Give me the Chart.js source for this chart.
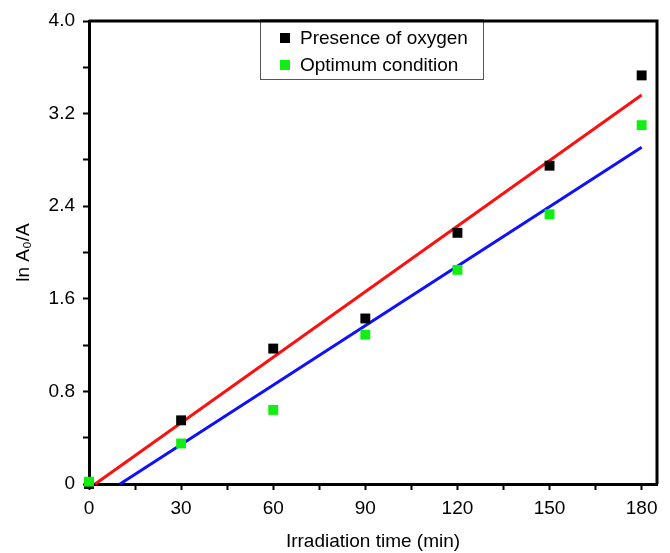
<!DOCTYPE html>
<html>
<head>
<meta charset="utf-8">
<script src="https://cdn.jsdelivr.net/npm/chart.js@4"></script>
<style>
  body { margin: 0; background: #fff; }
  #wrap { width: 670px; height: 553px; }
</style>
</head>
<body>
<div id="wrap"><canvas id="chart" width="670" height="553"></canvas></div>
<script>
// irradiation time (min)
const times = [0, 30, 60, 90, 120, 150, 180];
const oxygen_vals = [0, 0.55, 1.17, 1.43, 2.17, 2.75, 3.53];
const optimum_vals = [0.02, 0.35, 0.64, 1.29, 1.85, 2.33, 3.10];
// end points of the two fitted lines
const red_fit_x = [2, 180];
const red_fit_y = [0, 3.36];
const blue_fit_x = [10.1, 180];
const blue_fit_y = [0, 2.91];

const series_labels = ['Presence of oxygen', 'Optimum condition'];

function to_points(xs, ys) {
    return xs.map((x, i) => ({ x: x, y: ys[i] }));
}

const font_name = '"Liberation Sans", Arial, Helvetica, sans-serif';

// box round the plot and the legend inside it
const frame_plugin = {
    id: 'frame',
    afterDraw(chart) {
        const ctx = chart.ctx;
        const a = chart.chartArea;
        ctx.save();
        ctx.strokeStyle = '#000';
        ctx.lineWidth = 3;
        ctx.beginPath();
        ctx.moveTo(a.left, a.top);
        ctx.lineTo(a.right, a.top);
        ctx.lineTo(a.right, a.bottom);
        ctx.stroke();

        // legend
        const lx = 260, ly = 20, lw = 223, lh = 59;
        ctx.fillStyle = '#fff';
        ctx.fillRect(lx, ly, lw, lh);
        ctx.lineWidth = 1;
        ctx.strokeStyle = '#555';
        ctx.strokeRect(lx + 0.5, ly + 0.5, lw, lh);
        ctx.lineWidth = 3;
        ctx.strokeStyle = '#000';
        ctx.beginPath();
        ctx.moveTo(lx, a.top);
        ctx.lineTo(lx + lw + 1, a.top);
        ctx.stroke();

        ctx.font = '19px ' + font_name;
        ctx.textBaseline = 'middle';
        ctx.textAlign = 'left';
        const rows = [38, 65];
        [0, 1].forEach(i => {
            const ds = chart.data.datasets[i];
            ctx.fillStyle = ds.backgroundColor;
            ctx.fillRect(280, rows[i] - 5, 10, 10);
            ctx.fillStyle = '#000';
            ctx.fillText(ds.label, 300, rows[i] + 1);
        });
        ctx.restore();
    }
};

new Chart(document.getElementById('chart'), {
    type: 'scatter',
    data: {
        datasets: [
            {
                label: series_labels[0],
                data: to_points(times, oxygen_vals),
                backgroundColor: '#000000',
                borderColor: '#000000',
                pointStyle: 'rect',
                pointRadius: 7,
                borderWidth: 0,
                order: 1
            },
            {
                label: series_labels[1],
                data: to_points(times, optimum_vals),
                backgroundColor: '#11ee11',
                borderColor: '#11ee11',
                pointStyle: 'rect',
                pointRadius: 7,
                borderWidth: 0,
                order: 0
            },
            {
                label: 'fit oxygen',
                data: to_points(red_fit_x, red_fit_y),
                showLine: true,
                borderColor: '#ff1010',
                borderWidth: 3,
                pointRadius: 0,
                order: 3
            },
            {
                label: 'fit optimum',
                data: to_points(blue_fit_x, blue_fit_y),
                showLine: true,
                borderColor: '#1010ff',
                borderWidth: 3,
                pointRadius: 0,
                order: 3
            }
        ]
    },
    options: {
        responsive: false,
        animation: false,
        clip: false,
        layout: { padding: { top: 21, right: 13, left: 0, bottom: 0 } },
        plugins: {
            legend: { display: false },
            tooltip: { enabled: false }
        },
        scales: {
            x: {
                type: 'linear',
                min: 0,
                max: 185,
                afterFit: s => { s.height = 69; },
                border: { display: true, color: '#000', width: 3 },
                grid: { drawOnChartArea: false, drawTicks: true, tickLength: 6, tickWidth: 2, tickColor: '#000' },
                ticks: {
                    stepSize: 15,
                    includeBounds: false,
                    autoSkip: false,
                    maxRotation: 0,
                    padding: 7,
                    color: '#000',
                    font: { size: 19, family: font_name },
                    callback: v => (v % 30 === 0 ? String(v) : '')
                },
                title: {
                    display: true,
                    text: 'Irradiation time (min)',
                    color: '#000',
                    font: { size: 19, family: font_name },
                    padding: { top: 0, bottom: 0 }
                }
            },
            y: {
                type: 'linear',
                min: 0,
                max: 4,
                afterFit: s => { s.width = 89; },
                border: { display: true, color: '#000', width: 3 },
                grid: { drawOnChartArea: false, drawTicks: true, tickLength: 6, tickWidth: 2, tickColor: '#000' },
                ticks: {
                    stepSize: 0.4,
                    autoSkip: false,
                    padding: 8,
                    color: '#000',
                    font: { size: 19, family: font_name },
                    callback: v => {
                        const k = Math.round(v * 10);
                        if (k % 8 !== 0) return '';
                        return k === 0 ? '0' : (k / 10).toFixed(1);
                    }
                },
                title: {
                    display: true,
                    text: 'ln A₀/A',
                    color: '#000',
                    font: { size: 19, family: font_name },
                    padding: { top: 12, bottom: 0 }
                }
            }
        }
    },
    plugins: [frame_plugin]
});
</script>
</body>
</html>
